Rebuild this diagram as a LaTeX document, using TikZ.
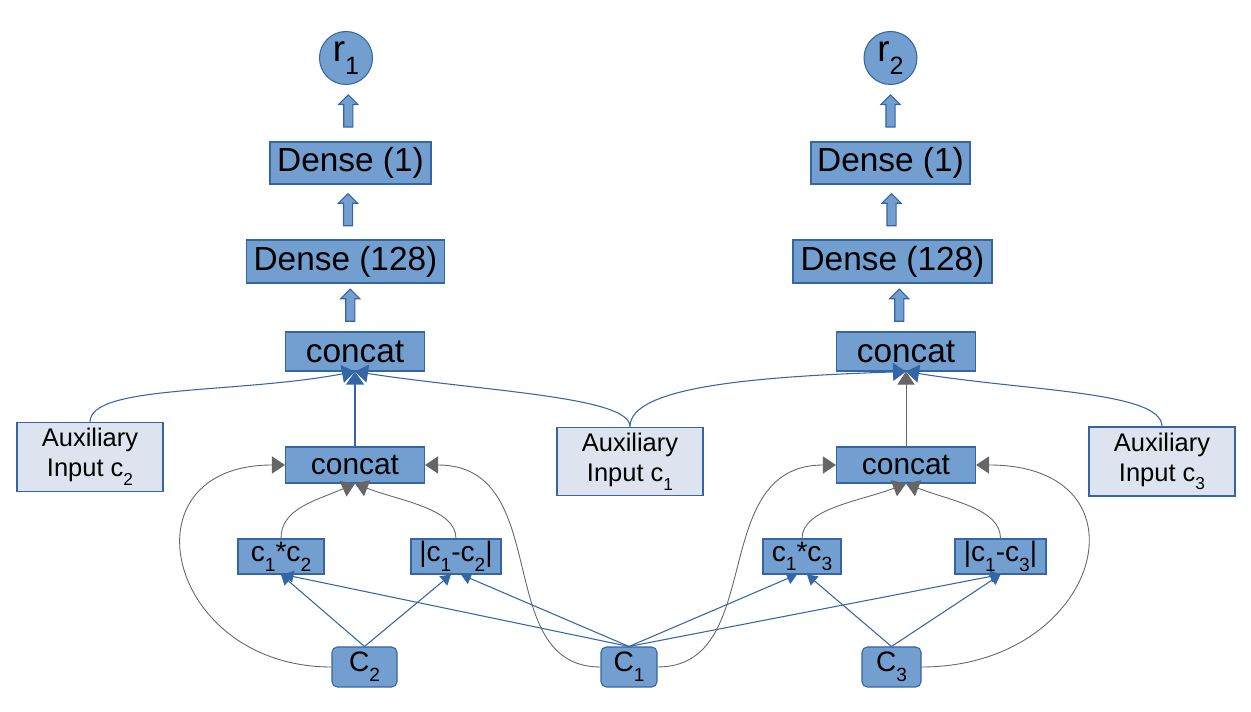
\documentclass[tikz,border=0pt]{standalone}
\usepackage{fontspec}
\setmainfont{Liberation Sans}
\usetikzlibrary{arrows.meta,shapes.arrows}
\definecolor{boxfill}{HTML}{729FCF}
\definecolor{boxline}{HTML}{3465A4}
\definecolor{auxfill}{HTML}{DDE4EF}
\definecolor{grayline}{HTML}{666666}
\newcommand{\lo}[1]{\raisebox{-0.65ex}{\scalebox{0.68}{#1}}}

\begin{document}
\begin{tikzpicture}[
    box/.style = {draw=boxline, line width=0.6pt, fill=boxfill, inner sep=0pt, font=\fontsize{19}{22}\selectfont},
    joinbox/.style = {box, minimum width=2.78cm, minimum height=0.72cm, font=\fontsize{17}{20}\selectfont},
    opbox/.style = {box, minimum height=0.70cm, font=\fontsize{16}{19}\selectfont},
    auxbox/.style = {draw=boxline, line width=0.6pt, fill=auxfill, minimum width=2.92cm, align=center, font=\fontsize{14.5}{17}\selectfont},
    outnode/.style = {circle, draw=boxline, line width=0.6pt, fill=boxfill, minimum size=1.06cm, inner sep=0pt, font=\fontsize{21}{24}\selectfont},
    innode/.style = {box, rounded corners=3pt, minimum height=0.80cm, font=\fontsize{16}{19}\selectfont},
    uparr/.style = {single arrow, draw=boxline, line width=0.6pt, fill=boxfill, rotate=90, inner sep=0.08cm, minimum height=0.64cm, single arrow head extend=0.1cm},
    link/.style = {draw=boxline, line width=0.6pt, -{Triangle[length=0.26cm, width=0.36cm]}},
    slink/.style = {draw=boxline, line width=0.6pt, -{Triangle[length=0.2cm, width=0.24cm]}},
    gline/.style = {draw=grayline, line width=0.5pt, -{Triangle[length=0.26cm, width=0.34cm]}}
]
    \useasboundingbox (0,0) rectangle (25.02,-14.24);

    \node[outnode] (r1) at (6.92,-1.16) {r\lo{1}};
    \node[box, minimum width=3.22cm, minimum height=0.84cm] (denseA1) at (7.01,-3.26) {Dense (1)};
    \node[box, minimum width=3.96cm, minimum height=0.86cm] (denseA128) at (6.91,-5.23) {Dense (128)};
    \node[box, minimum width=2.78cm, minimum height=0.78cm] (catA) at (7.10,-7.03) {concat};
    \node[joinbox] (joinA) at (7.10,-9.30) {concat};

    \node[outnode] (r2) at (17.81,-1.16) {r\lo{2}};
    \node[box, minimum width=3.18cm, minimum height=0.84cm] (denseB1) at (17.81,-3.26) {Dense (1)};
    \node[box, minimum width=3.98cm, minimum height=0.86cm] (denseB128) at (17.85,-5.23) {Dense (128)};
    \node[box, minimum width=2.78cm, minimum height=0.78cm] (catB) at (18.12,-7.03) {concat};
    \node[joinbox] (joinB) at (18.12,-9.30) {concat};

    \node[auxbox, minimum height=1.16cm] (auxC2) at (1.80,-9.14) {Auxiliary\\Input c\lo{2}};
    \node[auxbox, minimum height=1.26cm] (auxC1) at (12.60,-9.23) {Auxiliary\\Input c\lo{1}};
    \node[auxbox, minimum height=1.26cm] (auxC3) at (23.24,-9.23) {Auxiliary\\Input c\lo{3}};

    \node[opbox, minimum width=1.72cm] (mulA) at (5.62,-11.13) {c\lo{1}*c\lo{2}};
    \node[opbox, minimum width=1.80cm] (diffA) at (9.12,-11.13) {|c\lo{1}-c\lo{2}|};
    \node[opbox, minimum width=1.56cm] (mulB) at (16.04,-11.13) {c\lo{1}*c\lo{3}};
    \node[opbox, minimum width=1.82cm] (diffB) at (20.01,-11.13) {|c\lo{1}-c\lo{3}|};

    \node[innode, minimum width=1.30cm] (c2) at (7.29,-13.34) {C\lo{2}};
    \node[innode, minimum width=1.12cm] (c1) at (12.58,-13.34) {C\lo{1}};
    \node[innode, minimum width=1.18cm] (c3) at (17.83,-13.34) {C\lo{3}};

    \path (denseA1.north) -- (r1.south) node[midway, uparr] {};
    \path (denseA128.north) -- (denseA1.south) node[midway, uparr] {};
    \path (catA.north) -- (denseA128.south) node[midway, uparr] {};
    \path (denseB1.north) -- (r2.south) node[midway, uparr] {};
    \path (denseB128.north) -- (denseB1.south) node[midway, uparr] {};
    \path (catB.north) -- (denseB128.south) node[midway, uparr] {};

    \draw [link] (joinA.north) -- (catA.south);
    \draw [gline] (joinB.north) -- (catB.south);
    \draw [link] (auxC2.north) .. controls +(0,0.75) and +(-2.4,-0.45) .. (catA.south);
    \draw [link] (auxC1.north) .. controls +(0,0.6) and +(2.6,-0.4) .. (catA.south);
    \draw [link] (auxC1.north) .. controls +(0,0.8) and +(-3,-0.1) .. (catB.south);
    \draw [link] (auxC3.north) .. controls +(0,0.7) and +(2.5,-0.4) .. (catB.south);

    \draw [gline] (mulA.north) .. controls +(0,0.6) and +(-0.8,-0.35) .. (joinA.south);
    \draw [gline] (diffA.north) .. controls +(0,0.6) and +(0.9,-0.35) .. (joinA.south);
    \draw [gline] (mulB.north) .. controls +(0,0.6) and +(-0.9,-0.35) .. (joinB.south);
    \draw [gline] (diffB.north) .. controls +(0,0.6) and +(0.9,-0.35) .. (joinB.south);

    \draw [gline] (c2.west) .. controls +(-3.3,0) and +(-3.3,0) .. (joinA.west);
    \draw [gline] (c1.west) .. controls +(-2.2,0) and +(2.6,0) .. (joinA.east);
    \draw [gline] (c1.east) .. controls +(2.2,0) and +(-2.6,0) .. (joinB.west);
    \draw [gline] (c3.east) .. controls +(3.6,0) and +(3.6,0) .. (joinB.east);

    \draw [slink] (c2.north) -- (mulA.south);
    \draw [slink] (c2.north) -- ([xshift=-0.1cm]diffA.south);
    \draw [slink] (c1.north) -- ([xshift=0.05cm]mulA.south);
    \draw [slink] (c1.north) -- ([xshift=0.1cm]diffA.south);
    \draw [slink] (c1.north) -- ([xshift=-0.1cm]mulB.south);
    \draw [slink] (c1.north) -- (diffB.south);
    \draw [slink] (c3.north) -- ([xshift=0.1cm]mulB.south);
    \draw [slink] (c3.north) -- (diffB.south);
\end{tikzpicture}
\end{document}
